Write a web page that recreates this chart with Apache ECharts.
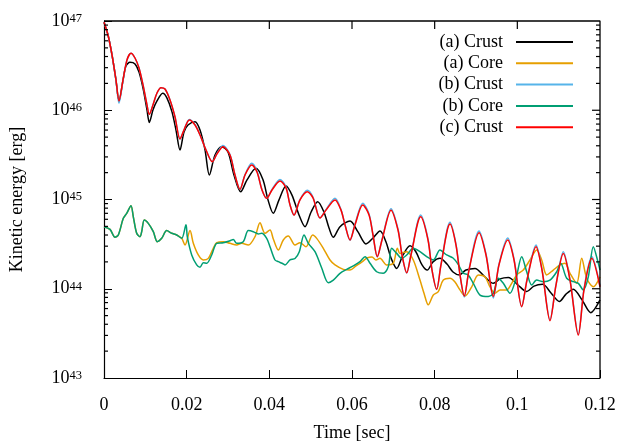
<!DOCTYPE html>
<html><head><meta charset="utf-8">
<script src="https://cdn.jsdelivr.net/npm/echarts/dist/echarts.min.js"></script>
<style>html,body{margin:0;padding:0;background:#fff}
.ch{position:absolute;left:0;top:0;width:623px;height:443px}
#frame{pointer-events:none}</style>
</head><body><div id="c" class="ch"></div><div id="frame" class="ch"></div><script>
const seriesNames = ['(a) Crust', '(a) Core', '(b) Crust', '(b) Core', '(c) Crust'];
const seriesColors = ['#000000', '#e69f00', '#56b4e9', '#009e73', '#ff0000'];

const crustA = [[0,9.7e46],[0.00097,6.97e46],[0.00194,4.16e46],[0.0029,2.18e46],[0.00363,1.27e46],[0.0046,2.18e46],[0.00532,3.13e46],[0.00629,3.44e46],[0.0075,3.30e46],[0.00847,2.68e46],[0.00944,1.77e46],[0.0104,1.01e46],[0.01096,7.3e45],[0.01186,1.01e46],[0.01282,1.27e46],[0.0142,1.55e46],[0.01524,1.37e46],[0.01645,9.6e45],[0.01742,6.0e45],[0.01839,3.59e45],[0.01935,5.7e45],[0.02032,6.84e45],[0.02202,7.45e45],[0.02323,6.0e45],[0.02444,3.59e45],[0.02548,1.88e45],[0.02686,3.15e45],[0.02848,3.91e45],[0.03,3.40e45],[0.03145,1.88e45],[0.03307,1.22e45],[0.0346,1.66e45],[0.03677,2.24e45],[0.03847,1.66e45],[0.03968,9.9e44],[0.04096,7.0e44],[0.04234,9.9e44],[0.04403,1.42e45],[0.04548,1.12e45],[0.04718,6.7e44],[0.04863,4.96e44],[0.05008,7.2e44],[0.0517,9.45e44],[0.05323,7.2e44],[0.05444,4.8e44],[0.05548,3.78e44],[0.0571,4.96e44],[0.05952,5.74e44],[0.06145,4.33e44],[0.06339,3.18e44],[0.06508,3.70e44],[0.06677,4.44e44],[0.06823,3.34e44],[0.06944,2.21e44],[0.07082,1.69e44],[0.07234,2.39e44],[0.07403,3.03e44],[0.07548,2.58e44],[0.07694,1.85e44],[0.07822,1.62e44],[0.0796,2.0e44],[0.08129,2.19e44],[0.08298,1.89e44],[0.08444,1.54e44],[0.08596,1.43e44],[0.08758,1.62e44],[0.08976,1.69e44],[0.09194,1.39e44],[0.09419,1.15e44],[0.09581,1.29e44],[0.09782,1.34e44],[0.10016,1.10e44],[0.10227,9.3e43],[0.10403,1.07e44],[0.10613,1.12e44],[0.10815,8.97e43],[0.11016,7.2e43],[0.11178,8.7e43],[0.11354,9.9e43],[0.11565,7.5e43],[0.11775,5.4e43],[0.12,7.5e43]];

const coreA = [[0,4.96e44],[0.00145,4.63e44],[0.00266,3.78e44],[0.00346,4.0e44],[0.00467,6.15e44],[0.00549,7.0e44],[0.00653,8.5e44],[0.00709,6.4e44],[0.00791,4.18e44],[0.00871,3.83e44],[0.00912,4.36e44],[0.00975,5.9e44],[0.01072,5.4e44],[0.01193,4.36e44],[0.0129,3.37e44],[0.01396,3.67e44],[0.01517,4.48e44],[0.01638,4.18e44],[0.01759,4.0e44],[0.0188,3.67e44],[0.0196,3.09e44],[0.02081,4.48e44],[0.02161,3.23e44],[0.02281,2.39e44],[0.02402,2.10e44],[0.02523,2.19e44],[0.02644,2.84e44],[0.02727,3.28e44],[0.02886,3.37e44],[0.03048,3.23e44],[0.0321,3.09e44],[0.03331,3.23e44],[0.03491,3.09e44],[0.03653,3.83e44],[0.03774,5.5e44],[0.03895,4.18e44],[0.04016,4.55e44],[0.04096,3.61e44],[0.04217,2.72e44],[0.04338,3.52e44],[0.04459,3.90e44],[0.04621,3.09e44],[0.04742,3.28e44],[0.04887,2.96e44],[0.05049,4.0e44],[0.05146,3.67e44],[0.05306,2.84e44],[0.05468,2.10e44],[0.05589,1.85e44],[0.0579,1.65e44],[0.05952,1.62e44],[0.06097,1.80e44],[0.06242,2.0e44],[0.06363,2.21e44],[0.06484,2.27e44],[0.0658,2.10e44],[0.06677,2.19e44],[0.06839,1.85e44],[0.07,1.93e44],[0.07096,2.84e44],[0.07161,2.49e44],[0.07324,2.60e44],[0.07483,2.10e44],[0.07645,1.25e44],[0.07742,8.9e43],[0.07846,6.6e43],[0.07967,8.5e43],[0.08088,9.3e43],[0.08209,1.25e44],[0.08371,1.31e44],[0.08492,1.19e44],[0.08613,9.7e43],[0.08734,8.3e43],[0.08896,1.05e44],[0.09056,1.43e44],[0.09218,1.36e44],[0.09339,1.05e44],[0.0946,8.9e43],[0.09581,9.7e43],[0.09743,9.7e43],[0.09864,1.15e44],[0.09985,1.43e44],[0.10144,1.62e44],[0.10306,2.10e44],[0.10468,2.72e44],[0.10589,2.10e44],[0.10711,1.43e44],[0.1087,1.62e44],[0.11032,1.85e44],[0.11153,1.93e44],[0.11274,1.49e44],[0.11436,1.15e44],[0.11557,2.19e44],[0.11678,1.31e44],[0.11838,1.05e44],[0.12,1.36e44]];

const crustB = [[0,9.7e46],[0.00097,6.97e46],[0.00194,4.16e46],[0.0029,2.15e46],[0.00363,1.2e46],[0.0046,2.15e46],[0.00556,3.66e46],[0.00653,4.35e46],[0.0075,3.85e46],[0.00847,2.97e46],[0.00944,1.92e46],[0.0104,1.15e46],[0.01096,9.0e45],[0.01186,1.15e46],[0.01282,1.56e46],[0.01379,1.79e46],[0.01476,1.73e46],[0.01597,1.30e46],[0.01718,8.4e45],[0.01839,4.76e45],[0.01935,6.0e45],[0.02064,7.9e45],[0.02202,6.9e45],[0.02323,5.28e45],[0.02468,3.59e45],[0.0262,2.65e45],[0.02734,3.28e45],[0.02879,4.02e45],[0.03048,3.2e45],[0.03169,1.88e45],[0.0329,1.30e45],[0.03412,1.9e45],[0.03573,2.55e45],[0.03701,2.08e45],[0.03823,1.28e45],[0.03936,1.03e45],[0.04065,1.3e45],[0.04258,1.68e45],[0.04403,1.38e45],[0.045,8.7e44],[0.04597,6.7e44],[0.04742,1.0e45],[0.04919,1.27e45],[0.05057,1.06e45],[0.05226,6.2e44],[0.05371,7.7e44],[0.05589,1.03e45],[0.05734,7.7e44],[0.05831,5.2e44],[0.05952,3.5e44],[0.06073,5.3e44],[0.06259,9.1e44],[0.06412,6.9e44],[0.06508,4.0e44],[0.06612,2.27e44],[0.06726,3.55e44],[0.06944,7.9e44],[0.07113,4.65e44],[0.0721,2.39e44],[0.07324,1.5e44],[0.07427,2.42e44],[0.07662,6.7e44],[0.07839,3.6e44],[0.07936,1.62e44],[0.08049,9.8e43],[0.08153,1.88e44],[0.08371,5.55e44],[0.08516,3.15e44],[0.08613,1.43e44],[0.08717,8.1e43],[0.08831,1.65e44],[0.09073,4.45e44],[0.09242,2.45e44],[0.09419,7.9e43],[0.09556,1.88e44],[0.09767,3.7e44],[0.0992,2.15e44],[0.10106,6.3e43],[0.10234,1.27e44],[0.10452,3.1e44],[0.10597,1.65e44],[0.1079,4.5e43],[0.10936,1.12e44],[0.11113,2.6e44],[0.11274,1.27e44],[0.11475,3.1e43],[0.11613,1.0e44],[0.118,2.3e44],[0.12,1.08e44]];

const coreB = [[0,4.96e44],[0.00145,4.63e44],[0.00266,3.78e44],[0.00346,4.0e44],[0.00467,6.15e44],[0.00549,7.0e44],[0.00653,8.5e44],[0.00709,6.4e44],[0.00791,4.18e44],[0.00871,3.83e44],[0.00912,4.36e44],[0.00975,5.9e44],[0.01072,5.4e44],[0.01193,4.36e44],[0.0129,3.37e44],[0.01396,3.67e44],[0.01517,4.48e44],[0.01638,4.18e44],[0.01759,4.0e44],[0.0188,3.67e44],[0.01984,5.2e44],[0.02015,3.83e44],[0.02122,2.39e44],[0.02243,1.85e44],[0.02323,1.74e44],[0.02402,1.96e44],[0.02485,1.93e44],[0.02606,2.39e44],[0.02727,3.23e44],[0.02886,3.28e44],[0.03048,3.45e44],[0.03128,3.57e44],[0.0321,3.23e44],[0.0337,3.37e44],[0.03491,4.48e44],[0.03612,4.36e44],[0.03733,4.11e44],[0.03815,4.18e44],[0.03936,3.67e44],[0.04016,2.96e44],[0.04137,2.10e44],[0.04217,2.01e44],[0.04307,1.93e44],[0.04379,1.85e44],[0.045,2.10e44],[0.04621,2.18e44],[0.04725,2.60e44],[0.04839,4.0e44],[0.04943,3.23e44],[0.05105,2.60e44],[0.05267,1.71e44],[0.05427,1.17e44],[0.05548,1.25e44],[0.0571,1.49e44],[0.05872,1.65e44],[0.06031,1.80e44],[0.06194,2.01e44],[0.06315,2.29e44],[0.06436,1.93e44],[0.06597,1.55e44],[0.06757,1.49e44],[0.06878,1.77e44],[0.0696,2.84e44],[0.07082,2.49e44],[0.07202,2.19e44],[0.07324,2.39e44],[0.07483,2.84e44],[0.07645,2.60e44],[0.07807,2.29e44],[0.07967,2.10e44],[0.08129,2.72e44],[0.08291,2.39e44],[0.08444,2.21e44],[0.08565,1.89e44],[0.08693,1.49e44],[0.08807,1.43e44],[0.08935,1.15e44],[0.09097,8.5e43],[0.09298,8.2e43],[0.09419,8.9e43],[0.09539,1.31e44],[0.09661,1.15e44],[0.09823,8.9e43],[0.09968,1.31e44],[0.10106,2.29e44],[0.10227,1.55e44],[0.10348,1.10e44],[0.10468,1.25e44],[0.10629,1.20e44],[0.1079,1.25e44],[0.10953,1.55e44],[0.11049,1.93e44],[0.11194,1.31e44],[0.11354,1.20e44],[0.11475,1.15e44],[0.11596,9.7e43],[0.11717,1.36e44],[0.11838,2.96e44],[0.11959,1.93e44],[0.12,1.62e44]];

const crustC = [[0,9.7e46],[0.00097,6.97e46],[0.00194,4.16e46],[0.0029,2.18e46],[0.00363,1.27e46],[0.0046,2.18e46],[0.00556,3.66e46],[0.00653,4.35e46],[0.0075,3.85e46],[0.00847,2.97e46],[0.00944,1.92e46],[0.0104,1.15e46],[0.01096,9.0e45],[0.01186,1.15e46],[0.01282,1.56e46],[0.01379,1.79e46],[0.01476,1.73e46],[0.01597,1.30e46],[0.01718,8.4e45],[0.01839,4.76e45],[0.01935,6.0e45],[0.02064,7.8e45],[0.02202,6.84e45],[0.02323,5.28e45],[0.02468,3.59e45],[0.0262,2.65e45],[0.02734,3.24e45],[0.02879,3.91e45],[0.03048,3.15e45],[0.03169,1.88e45],[0.0329,1.30e45],[0.03412,1.88e45],[0.03573,2.44e45],[0.03701,2.03e45],[0.03823,1.28e45],[0.03936,1.03e45],[0.04065,1.28e45],[0.04258,1.61e45],[0.04403,1.35e45],[0.045,8.7e44],[0.04597,6.7e44],[0.04742,9.9e44],[0.04919,1.22e45],[0.05057,1.04e45],[0.05226,6.2e44],[0.05371,7.6e44],[0.05589,9.9e44],[0.05734,7.6e44],[0.05831,5.2e44],[0.05952,3.52e44],[0.06073,5.2e44],[0.06259,8.7e44],[0.06412,6.7e44],[0.06508,4.0e44],[0.06612,2.29e44],[0.06726,3.52e44],[0.06944,7.6e44],[0.07113,4.55e44],[0.0721,2.39e44],[0.07324,1.51e44],[0.07427,2.39e44],[0.07662,6.4e44],[0.07839,3.52e44],[0.07936,1.62e44],[0.08049,9.9e43],[0.08153,1.85e44],[0.08371,5.3e44],[0.08516,3.09e44],[0.08613,1.43e44],[0.08717,8.3e43],[0.08831,1.62e44],[0.09073,4.25e44],[0.09242,2.39e44],[0.09419,8.2e43],[0.09556,1.85e44],[0.09767,3.52e44],[0.0992,2.10e44],[0.10106,6.3e43],[0.10234,1.25e44],[0.10452,2.96e44],[0.10597,1.62e44],[0.1079,4.39e43],[0.10936,1.10e44],[0.11113,2.49e44],[0.11274,1.25e44],[0.11475,3.03e43],[0.11613,9.7e43],[0.118,2.19e44],[0.12,1.05e44]];

const seriesData = [crustA, coreA, crustB, coreB, crustC];

const xMin = 0, xMax = 0.12, xStep = 0.02;
const xTickValues = [0.02, 0.04, 0.06, 0.08, 0.1];
const yMin = 1e43, yMax = 1e47;
const yMajorValues = [1e44, 1e45, 1e46];
const minorMultipliers = [2, 3, 4, 5, 6, 7, 8, 9];
const decadeExponents = [43, 44, 45, 46];

const FONT = 'Liberation Serif';
const GRID = {left: 104, right: 23, top: 21, bottom: 65, outerBoundsMode: 'none'};

// [x, y, dx, dy]: tick starting at data point (x, y), pointing (dx, dy) pixels into the plot
const tickData = [];
decadeExponents.forEach(k => minorMultipliers.forEach(m => {
  tickData.push([xMin, m * Math.pow(10, k), 4, 0]);
  tickData.push([xMax, m * Math.pow(10, k), -4, 0]);
}));
yMajorValues.forEach(v => tickData.push([xMax, v, -8, 0]));
xTickValues.forEach(v => tickData.push([v, yMax, 0, 8]));
const frameCorners = [[xMin, yMax], [xMax, yMax], [xMax, yMin]];

// ---- main chart: curves, axes, labels, legend ----
const chart = echarts.init(document.getElementById('c'));
chart.setOption({
  animation: false,
  grid: GRID,
  legend: {
    data: seriesNames, orient: 'vertical', right: 45, top: 27, align: 'right',
    itemWidth: 57, itemHeight: 10, itemGap: 1.3, icon: 'path://M0,4H57V6H0Z',
    textStyle: {fontFamily: FONT, fontSize: 18, color: '#000', lineHeight: 20, padding: [0, 8, 0, 0]}
  },
  xAxis: {
    type: 'value', min: xMin, max: xMax, interval: xStep,
    name: 'Time [sec]', nameLocation: 'middle', nameGap: 46,
    nameTextStyle: {fontFamily: FONT, fontSize: 18, color: '#000'},
    axisLine: {show: true, lineStyle: {color: '#000', width: 1.2}}, splitLine: {show: false},
    axisTick: {show: true, inside: true, length: 8, lineStyle: {color: '#000'}},
    axisLabel: {fontFamily: FONT, fontSize: 18, color: '#000', margin: 18}
  },
  yAxis: {
    type: 'log', min: yMin, max: yMax,
    name: 'Kinetic energy [erg]', nameLocation: 'middle', nameGap: 78,
    nameTextStyle: {fontFamily: FONT, fontSize: 18, color: '#000'},
    axisLine: {show: true, lineStyle: {color: '#000', width: 1.2}}, splitLine: {show: false},
    axisTick: {show: true, inside: true, length: 8, lineStyle: {color: '#000'}},
    axisLabel: {
      margin: 22,
      formatter: v => '{b|10}{s|' + Math.round(Math.log10(v)) + '}',
      rich: {
        b: {fontFamily: FONT, fontSize: 18, lineHeight: 18, padding: [8, 0, 8, 0], color: '#000'},
        s: {fontFamily: FONT, fontSize: 12.5, lineHeight: 12, verticalAlign: 'top', color: '#000'}
      }
    }
  },
  series: seriesNames.map((name, i) => ({
    name, type: 'line', data: seriesData[i], showSymbol: false, symbol: 'none',
    smooth: 0.3, lineStyle: {color: seriesColors[i], width: 1.5}, itemStyle: {color: seriesColors[i]}
  }))
});

// ---- overlay chart on the same grid and scales: top/right border and mirrored/minor ticks ----
const overlay = echarts.init(document.getElementById('frame'));
overlay.setOption({
  animation: false,
  backgroundColor: 'transparent',
  grid: GRID,
  xAxis: {type: 'value', min: xMin, max: xMax, interval: xStep,
          axisLine: {show: false}, axisTick: {show: false}, axisLabel: {show: false}, splitLine: {show: false}},
  yAxis: {type: 'log', min: yMin, max: yMax,
          axisLine: {show: false}, axisTick: {show: false}, axisLabel: {show: false}, splitLine: {show: false}},
  series: [
    {type: 'line', data: frameCorners, clip: false, symbol: 'none', showSymbol: false,
     lineStyle: {color: '#000', width: 1.3}},
    {type: 'custom', clip: false, data: tickData, encode: {x: 0, y: 1},
     renderItem: (params, api) => {
       const p = api.coord([api.value(0), api.value(1)]);
       return {type: 'line', shape: {x1: p[0], y1: p[1], x2: p[0] + api.value(2), y2: p[1] + api.value(3)},
               style: {stroke: '#000', lineWidth: 1.2}};
     }}
  ]
});
</script></body></html>
